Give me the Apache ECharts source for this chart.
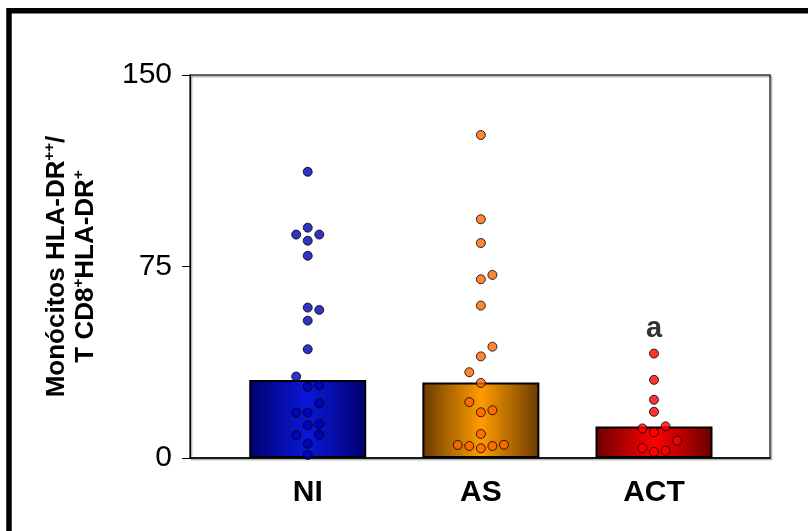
<!DOCTYPE html>
<html><head><meta charset="utf-8">
<script src="https://cdn.jsdelivr.net/npm/echarts@6/dist/echarts.min.js"></script>
<style>html,body{margin:0;padding:0;background:#fff}#c{width:808px;height:531px}</style>
</head><body><div id="c"></div>
<script>
// ---- data ----
const categories = ['NI', 'AS', 'ACT'];
const barValues = [30.5, 29.6, 12.3];          // bar heights (group medians)
const yTicks = [0, 75, 150];

const niValues = [112.1, 90.2, 87.5, 87.5, 85.1, 79.2, 58.9, 58.0, 53.8, 42.6, 31.9, 27.9, 28.5, 21.4, 17.8, 17.8, 12.8, 13.3, 8.9, 9.1, 5.6, 1.2];
const niLanes  = [0, 0, -1, 1, 0, 0, 0, 1, 0, 0, -1, 0, 1, 1, -1, 0, 0, 1, -1, 1, 0, 0];

const asValues = [126.5, 93.5, 84.2, 70.0, 71.7, 59.7, 43.6, 39.8, 33.6, 29.4, 21.9, 17.9, 18.7, 9.4, 5.1, 4.7, 3.8, 4.7, 5.2];
const asLanes  = [0, 0, 0, 0, 1, 0, 1, 0, -1, 0, -1, 0, 1, 0, -2, -1, 0, 1, 2];

const actValues = [40.9, 30.6, 22.8, 18.1, 11.6, 12.4, 10.1, 6.8, 3.9, 2.4, 2.9];
const actLanes  = [0, 0, 0, 0, -1, 1, 0, 2, -1, 0, 1];

const significance = ['', '', 'a'];

// ---- styling ----
const FONT = '"Liberation Sans", Arial, Helvetica, sans-serif';
const LANE_STEP = 0.0667;
const barGrad = [
  ['#00006e', '#0a18d8'],
  ['#6a3a00', '#ff9c00'],
  ['#6a0000', '#ff0000']
];
const dotColors = ['#0000b4', '#ff6600', '#ff0000'];

const groups = [
  { v: niValues, l: niLanes },
  { v: asValues, l: asLanes },
  { v: actValues, l: actLanes }
];

const chart = echarts.init(document.getElementById('c'));

const barData = barValues.map((v, i) => ({
  value: [i + 1, v],
  itemStyle: {
    color: new echarts.graphic.LinearGradient(0, 0, 1, 0, [
      { offset: 0, color: barGrad[i][0] },
      { offset: 0.5, color: barGrad[i][1] },
      { offset: 1, color: barGrad[i][0] }
    ])
  }
}));

const scatterSeries = groups.map((g, i) => ({
  type: 'scatter',
  z: 5,
  symbol: 'circle',
  symbolSize: 9,
  itemStyle: { color: dotColors[i], borderColor: '#000', borderWidth: 1 },
  data: g.v.map((v, k) => [i + 1 + g.l[k] * LANE_STEP, v]),
  silent: true
}));

const sigSeries = {
  type: 'scatter',
  z: 6,
  symbolSize: 0,
  silent: true,
  data: significance.map((s, i) => s ? { value: [i + 1, Math.max(...groups[i].v)], name: s } : null).filter(Boolean),
  label: {
    show: true, position: 'top', distance: 10,
    formatter: p => p.name,
    fontFamily: FONT, fontSize: 29, fontWeight: 'bold', color: '#000'
  }
};

chart.setOption({
  animation: false,
  backgroundColor: '#fff',
  grid: {
    left: 190, right: 38, top: 75, bottom: 73,
    show: true, borderColor: '#333', borderWidth: 1.5,
    shadowColor: 'rgba(0,0,0,0.35)', shadowOffsetX: 1.5, shadowOffsetY: 1.5, shadowBlur: 1
  },
  graphic: [{
    type: 'rect',
    shape: { x: 9, y: 10.75, width: 1000, height: 800 },
    style: { fill: 'none', stroke: '#000', lineWidth: 5.5 },
    silent: true
  }],
  xAxis: {
    type: 'value', min: 0.32, max: 3.67,
    axisLine: { show: true, lineStyle: { color: '#000', width: 1.5 } },
    axisTick: { show: false },
    splitLine: { show: false },
    axisLabel: {
      customValues: [1, 2, 3],
      formatter: v => categories[Math.round(v) - 1] || '',
      fontFamily: FONT, fontSize: 30, fontWeight: 'bold', color: '#000', margin: 20
    }
  },
  yAxis: {
    type: 'value', min: yTicks[0], max: yTicks[yTicks.length - 1], interval: yTicks[1] - yTicks[0],
    axisLine: { show: true, lineStyle: { color: '#000', width: 1 } },
    axisTick: { show: true, length: 8, lineStyle: { color: '#000' } },
    splitLine: { show: false },
    axisLabel: { fontFamily: FONT, fontSize: 30, color: '#000', margin: 18 },
    name: '{b|Monócitos HLA-DR}{s|++}{b|/}\n{b|T CD8}{s|+}{b|HLA-DR}{s|+}',
    nameLocation: 'middle',
    nameRotate: 90,
    nameGap: 90,
    nameTextStyle: {
      align: 'center',
      rich: {
        b: { fontFamily: FONT, fontSize: 26, fontWeight: 'bold', color: '#000', lineHeight: 29 },
        s: { fontFamily: FONT, fontSize: 15, fontWeight: 'bold', color: '#000', lineHeight: 29, verticalAlign: 'top', padding: [0, 0, 10, 0] }
      }
    }
  },
  series: [
    {
      type: 'bar',
      z: 2,
      barWidth: 117,
      silent: true,
      itemStyle: { borderColor: '#000', borderWidth: 2 },
      data: barData
    },
    ...scatterSeries,
    sigSeries
  ]
});
</script>
</body></html>
